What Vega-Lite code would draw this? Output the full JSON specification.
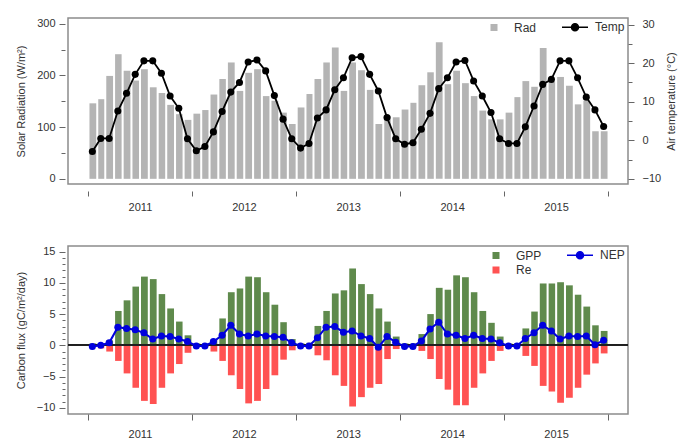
{
  "$schema": "https://vega.github.io/schema/vega-lite/v6.json",
  "background": "white",
  "padding": {"left": 14, "top": 16, "right": 5, "bottom": 5},
  "config": {
    "font": "Liberation Sans",
    "view": {"stroke": "#8c8c8c", "strokeWidth": 1.5},
    "axis": {"labelFont": "Liberation Sans", "labelFontSize": 11, "labelColor": "#333333", "titleFont": "Liberation Sans", "titleFontSize": 11, "titleFontWeight": "normal", "titleColor": "#333333", "tickColor": "#666666", "domain": false, "grid": false},
    "legend": {"labelFont": "Liberation Sans", "labelFontSize": 12, "labelColor": "#333333"}
  },
  "datasets": {
    "d": [
      {"date": "2011-01-15", "rad": 146, "temp": -2.9, "gpp": 0.3, "re": -0.3, "nep": -0.2},
      {"date": "2011-02-15", "rad": 154, "temp": 0.5, "gpp": 0.3, "re": -0.5, "nep": 0.0},
      {"date": "2011-03-15", "rad": 199, "temp": 0.5, "gpp": 0.8, "re": -1.0, "nep": 0.4},
      {"date": "2011-04-15", "rad": 241, "temp": 7.6, "gpp": 5.5, "re": -2.5, "nep": 2.9},
      {"date": "2011-05-15", "rad": 209, "temp": 12.2, "gpp": 7.2, "re": -4.5, "nep": 2.7},
      {"date": "2011-06-15", "rad": 190, "temp": 17.1, "gpp": 9.4, "re": -6.8, "nep": 2.5},
      {"date": "2011-07-15", "rad": 212, "temp": 20.6, "gpp": 11.0, "re": -8.9, "nep": 2.0},
      {"date": "2011-08-15", "rad": 177, "temp": 20.6, "gpp": 10.6, "re": -9.4, "nep": 1.0},
      {"date": "2011-09-15", "rad": 166, "temp": 17.4, "gpp": 8.2, "re": -6.8, "nep": 1.5},
      {"date": "2011-10-15", "rad": 143, "temp": 11.5, "gpp": 5.9, "re": -4.5, "nep": 1.4},
      {"date": "2011-11-15", "rad": 125, "temp": 8.3, "gpp": 3.8, "re": -3.0, "nep": 1.0},
      {"date": "2011-12-15", "rad": 114, "temp": 0.4, "gpp": 1.6, "re": -1.2, "nep": 0.6},
      {"date": "2012-01-15", "rad": 126, "temp": -2.7, "gpp": 0.3, "re": -0.3, "nep": -0.1},
      {"date": "2012-02-15", "rad": 133, "temp": -1.6, "gpp": 0.3, "re": -0.3, "nep": -0.1},
      {"date": "2012-03-15", "rad": 163, "temp": 2.2, "gpp": 0.9, "re": -1.0, "nep": 0.6},
      {"date": "2012-04-15", "rad": 193, "temp": 7.5, "gpp": 4.3, "re": -2.5, "nep": 1.6},
      {"date": "2012-05-15", "rad": 225, "temp": 12.5, "gpp": 8.5, "re": -4.8, "nep": 3.2},
      {"date": "2012-06-15", "rad": 170, "temp": 15.0, "gpp": 9.1, "re": -7.0, "nep": 1.8},
      {"date": "2012-07-15", "rad": 205, "temp": 20.3, "gpp": 11.0, "re": -9.3, "nep": 1.5},
      {"date": "2012-08-15", "rad": 212, "temp": 20.8, "gpp": 10.9, "re": -8.9, "nep": 1.8},
      {"date": "2012-09-15", "rad": 160, "temp": 18.0, "gpp": 8.5, "re": -7.0, "nep": 1.5},
      {"date": "2012-10-15", "rad": 151, "temp": 11.6, "gpp": 6.5, "re": -4.8, "nep": 1.4},
      {"date": "2012-11-15", "rad": 128, "temp": 5.5, "gpp": 3.7, "re": -2.3, "nep": 1.3},
      {"date": "2012-12-15", "rad": 106, "temp": 0.4, "gpp": 1.0, "re": -0.8, "nep": 0.4},
      {"date": "2013-01-15", "rad": 138, "temp": -2.0, "gpp": 0.3, "re": -0.3, "nep": -0.1},
      {"date": "2013-02-15", "rad": 164, "temp": -0.8, "gpp": 0.4, "re": -0.4, "nep": -0.1},
      {"date": "2013-03-15", "rad": 193, "temp": 5.8, "gpp": 3.1, "re": -1.6, "nep": 1.2},
      {"date": "2013-04-15", "rad": 225, "temp": 7.9, "gpp": 5.5, "re": -2.4, "nep": 2.9},
      {"date": "2013-05-15", "rad": 254, "temp": 13.1, "gpp": 8.3, "re": -4.8, "nep": 3.0},
      {"date": "2013-06-15", "rad": 170, "temp": 16.2, "gpp": 8.8, "re": -6.5, "nep": 2.1},
      {"date": "2013-07-15", "rad": 225, "temp": 21.4, "gpp": 12.3, "re": -9.8, "nep": 2.3},
      {"date": "2013-08-15", "rad": 210, "temp": 21.7, "gpp": 9.8, "re": -8.3, "nep": 1.5},
      {"date": "2013-09-15", "rad": 172, "temp": 17.1, "gpp": 8.2, "re": -6.8, "nep": 1.1},
      {"date": "2013-10-15", "rad": 106, "temp": 12.8, "gpp": 5.9, "re": -6.2, "nep": -0.3},
      {"date": "2013-11-15", "rad": 122, "temp": 5.9, "gpp": 3.8, "re": -2.2, "nep": 1.4},
      {"date": "2013-12-15", "rad": 119, "temp": 0.4, "gpp": 1.4, "re": -0.6, "nep": 0.5},
      {"date": "2014-01-15", "rad": 134, "temp": -1.0, "gpp": 0.3, "re": -0.3, "nep": -0.2},
      {"date": "2014-02-15", "rad": 147, "temp": -0.6, "gpp": 0.3, "re": -0.3, "nep": -0.2},
      {"date": "2014-03-15", "rad": 181, "temp": 2.9, "gpp": 1.8, "re": -0.9, "nep": 0.7},
      {"date": "2014-04-15", "rad": 206, "temp": 7.0, "gpp": 5.0, "re": -2.2, "nep": 2.6},
      {"date": "2014-05-15", "rad": 264, "temp": 13.4, "gpp": 9.2, "re": -5.4, "nep": 3.7},
      {"date": "2014-06-15", "rad": 183, "temp": 16.2, "gpp": 8.9, "re": -7.1, "nep": 1.8},
      {"date": "2014-07-15", "rad": 209, "temp": 20.3, "gpp": 11.2, "re": -9.6, "nep": 1.6},
      {"date": "2014-08-15", "rad": 185, "temp": 20.7, "gpp": 10.9, "re": -9.6, "nep": 1.1},
      {"date": "2014-09-15", "rad": 160, "temp": 15.4, "gpp": 8.5, "re": -6.8, "nep": 1.6},
      {"date": "2014-10-15", "rad": 132, "temp": 11.5, "gpp": 5.5, "re": -4.5, "nep": 1.1},
      {"date": "2014-11-15", "rad": 115, "temp": 7.2, "gpp": 3.6, "re": -2.5, "nep": 1.0},
      {"date": "2014-12-15", "rad": 115, "temp": 0.4, "gpp": 1.4, "re": -0.9, "nep": 0.4},
      {"date": "2015-01-15", "rad": 128, "temp": -0.8, "gpp": 0.3, "re": -0.3, "nep": -0.1},
      {"date": "2015-02-15", "rad": 158, "temp": -0.8, "gpp": 0.3, "re": -0.3, "nep": -0.1},
      {"date": "2015-03-15", "rad": 189, "temp": 3.5, "gpp": 2.7, "re": -1.7, "nep": 1.1},
      {"date": "2015-04-15", "rad": 178, "temp": 8.9, "gpp": 5.4, "re": -3.3, "nep": 2.0},
      {"date": "2015-05-15", "rad": 253, "temp": 14.5, "gpp": 9.9, "re": -6.5, "nep": 3.2},
      {"date": "2015-06-15", "rad": 188, "temp": 15.8, "gpp": 9.9, "re": -7.4, "nep": 2.3},
      {"date": "2015-07-15", "rad": 197, "temp": 20.6, "gpp": 10.1, "re": -9.2, "nep": 1.0},
      {"date": "2015-08-15", "rad": 180, "temp": 20.6, "gpp": 9.6, "re": -8.4, "nep": 1.5},
      {"date": "2015-09-15", "rad": 144, "temp": 16.2, "gpp": 8.1, "re": -6.8, "nep": 1.4},
      {"date": "2015-10-15", "rad": 151, "temp": 11.2, "gpp": 6.2, "re": -4.7, "nep": 1.5},
      {"date": "2015-11-15", "rad": 92, "temp": 7.9, "gpp": 3.2, "re": -2.9, "nep": 0.1},
      {"date": "2015-12-15", "rad": 92, "temp": 3.6, "gpp": 2.3, "re": -1.3, "nep": 0.8}
    ]
  },
  "data": {"name": "d"},
  "spacing": 31,
  "resolve": {"scale": {"color": "independent"}},
  "vconcat": [
    {
      "width": 560,
      "height": 166,
      "layer": [
        {
          "mark": {"type": "bar", "width": {"band": 0.88}},
          "encoding": {
            "x": {"field": "date", "type": "temporal", "timeUnit": "yearmonth",
              "scale": {"domain": [{"year": 2010, "month": 10, "date": 23}, {"year": 2016, "month": 3, "date": 11}]},
              "axis": {"title": null, "values": [{"year": 2011, "month": 1, "date": 1}, {"year": 2012, "month": 1, "date": 1}, {"year": 2013, "month": 1, "date": 1}, {"year": 2014, "month": 1, "date": 1}, {"year": 2015, "month": 1, "date": 1}, {"year": 2016, "month": 1, "date": 1}],
                "labelExpr": "year(datum.value) === 2016 ? '' : timeFormat(datum.value, '%Y')",
                "labelOffset": 52, "offset": 7, "tickSize": 5, "labelPadding": 5, "labelBound": false, "labelOverlap": false, "labelFlush": false}},
            "y": {"field": "rad", "type": "quantitative", "scale": {"domain": [-10, 311], "nice": false},
              "axis": {"title": "Solar Radiation (W/m²)", "values": [0, 50, 100, 150, 200, 250, 300], "labelExpr": "datum.value % 100 === 0 ? datum.label : ''", "labelOverlap": false, "offset": 3, "tickSize": {"condition": {"test": "datum.value % 100 === 0", "value": 6}, "value": 4}, "labelPadding": 4, "titlePadding": 10}},
            "color": {"datum": "Rad", "type": "nominal", "scale": {"domain": ["Rad", "Temp"], "range": ["#b4b4b4", "#000000"]},
              "legend": {"title": null, "orient": "top-right", "direction": "horizontal", "columns": 2, "offset": 3, "padding": 0, "columnPadding": 22, "symbolSize": 100, "labelOffset": 14,
                "encode": {"symbols": {"update": {
                  "shape": {"signal": "datum.value === 'Temp' ? 'M-2.6,0L2.6,0M0.7,0A0.7,0.7,0,1,1,-0.7,0A0.7,0.7,0,1,1,0.7,0Z' : 'M-0.55,-0.55L0.55,-0.55L0.55,0.55L-0.55,0.55Z'"},
                  "fill": {"signal": "datum.value === 'Temp' ? '#000000' : '#b4b4b4'"},
                  "stroke": {"signal": "datum.value === 'Temp' ? '#000000' : 'transparent'"},
                  "strokeWidth": {"value": 1.5},
                  "opacity": {"value": 1},
                  "fillOpacity": {"value": 1}
                }}}}}
          }
        },
        {
          "mark": {"type": "line", "strokeWidth": 1.8, "point": {"filled": true, "size": 50, "opacity": 1}},
          "encoding": {
            "x": {"field": "date", "type": "temporal", "timeUnit": "yearmonth", "bandPosition": 0.5},
            "y": {"field": "temp", "type": "quantitative", "scale": {"domain": [-11.3, 31.7], "nice": false},
              "axis": {"orient": "right", "title": "Air temperature (°C)", "titleAngle": 270, "values": [-10, -5, 0, 5, 10, 15, 20, 25, 30], "labelExpr": "datum.value % 10 === 0 ? datum.label : ''", "labelOverlap": false, "tickSize": {"condition": {"test": "datum.value % 10 === 0", "value": 6}, "value": 4}, "labelPadding": 8, "titlePadding": 16}},
            "color": {"datum": "Temp", "type": "nominal"}
          }
        }
      ],
      "resolve": {"scale": {"y": "independent"}}
    },
    {
      "width": 560,
      "height": 168,
      "layer": [
        {
          "mark": {"type": "bar", "width": {"band": 0.88}},
          "encoding": {
            "x": {"field": "date", "type": "temporal", "timeUnit": "yearmonth",
              "scale": {"domain": [{"year": 2010, "month": 10, "date": 23}, {"year": 2016, "month": 3, "date": 11}]},
              "axis": {"title": null, "values": [{"year": 2011, "month": 1, "date": 1}, {"year": 2012, "month": 1, "date": 1}, {"year": 2013, "month": 1, "date": 1}, {"year": 2014, "month": 1, "date": 1}, {"year": 2015, "month": 1, "date": 1}, {"year": 2016, "month": 1, "date": 1}],
                "labelExpr": "year(datum.value) === 2016 ? '' : timeFormat(datum.value, '%Y')",
                "labelOffset": 52, "offset": 0, "tickSize": 6, "labelPadding": 8, "labelBound": false, "labelOverlap": false, "labelFlush": false}},
            "y": {"field": "gpp", "type": "quantitative", "scale": {"domain": [-11, 15.9], "nice": false},
              "axis": {"title": "Carbon flux (gC/m²/day)", "values": [-10, -9, -8, -7, -6, -5, -4, -3, -2, -1, 0, 1, 2, 3, 4, 5, 6, 7, 8, 9, 10, 11, 12, 13, 14, 15], "labelExpr": "datum.value % 5 === 0 ? datum.label : ''", "labelOverlap": false, "labelBound": false, "offset": 3, "tickSize": {"condition": {"test": "datum.value % 5 === 0", "value": 6}, "value": 3}, "labelPadding": 4, "titlePadding": 10}},
            "color": {"datum": "GPP", "type": "nominal", "scale": {"domain": ["GPP", "NEP", "Re"], "range": ["#5f8a4c", "#0000dd", "#ff5252"]},
              "legend": {"title": null, "orient": "top-right", "direction": "horizontal", "columns": 2, "offset": 3, "padding": 0, "columnPadding": 22, "rowPadding": 2, "symbolSize": 100, "labelOffset": 14,
                "encode": {"symbols": {"update": {
                  "shape": {"signal": "datum.value === 'NEP' ? 'M-2.6,0L2.6,0M0.7,0A0.7,0.7,0,1,1,-0.7,0A0.7,0.7,0,1,1,0.7,0Z' : 'M-0.55,-0.55L0.55,-0.55L0.55,0.55L-0.55,0.55Z'"},
                  "fill": {"signal": "datum.value === 'NEP' ? '#0000dd' : (datum.value === 'GPP' ? '#5f8a4c' : '#ff5252')"},
                  "stroke": {"signal": "datum.value === 'NEP' ? '#0000dd' : 'transparent'"},
                  "strokeWidth": {"value": 1.5},
                  "opacity": {"value": 1},
                  "fillOpacity": {"value": 1}
                }}}}}
          }
        },
        {
          "mark": {"type": "bar", "width": {"band": 0.88}},
          "encoding": {
            "x": {"field": "date", "type": "temporal", "timeUnit": "yearmonth"},
            "y": {"field": "re", "type": "quantitative",
              "axis": {"title": "Carbon flux (gC/m²/day)", "values": [-10, -9, -8, -7, -6, -5, -4, -3, -2, -1, 0, 1, 2, 3, 4, 5, 6, 7, 8, 9, 10, 11, 12, 13, 14, 15], "labelExpr": "datum.value % 5 === 0 ? datum.label : ''", "labelOverlap": false, "labelBound": false, "offset": 3, "tickSize": {"condition": {"test": "datum.value % 5 === 0", "value": 6}, "value": 3}, "labelPadding": 4, "titlePadding": 10}},
            "color": {"datum": "Re", "type": "nominal"}
          }
        },
        {
          "mark": {"type": "rule", "color": "#222222", "strokeWidth": 1},
          "encoding": {"y": {"datum": 0, "type": "quantitative",
              "axis": {"title": "Carbon flux (gC/m²/day)", "values": [-10, -9, -8, -7, -6, -5, -4, -3, -2, -1, 0, 1, 2, 3, 4, 5, 6, 7, 8, 9, 10, 11, 12, 13, 14, 15], "labelExpr": "datum.value % 5 === 0 ? datum.label : ''", "labelOverlap": false, "labelBound": false, "offset": 3, "tickSize": {"condition": {"test": "datum.value % 5 === 0", "value": 6}, "value": 3}, "labelPadding": 4, "titlePadding": 10}}}
        },
        {
          "mark": {"type": "line", "strokeWidth": 2, "point": {"filled": true, "size": 50, "opacity": 1}},
          "encoding": {
            "x": {"field": "date", "type": "temporal", "timeUnit": "yearmonth", "bandPosition": 0.5},
            "y": {"field": "nep", "type": "quantitative",
              "axis": {"title": "Carbon flux (gC/m²/day)", "values": [-10, -9, -8, -7, -6, -5, -4, -3, -2, -1, 0, 1, 2, 3, 4, 5, 6, 7, 8, 9, 10, 11, 12, 13, 14, 15], "labelExpr": "datum.value % 5 === 0 ? datum.label : ''", "labelOverlap": false, "labelBound": false, "offset": 3, "tickSize": {"condition": {"test": "datum.value % 5 === 0", "value": 6}, "value": 3}, "labelPadding": 4, "titlePadding": 10}},
            "color": {"datum": "NEP", "type": "nominal"}
          }
        }
      ]
    }
  ]
}
